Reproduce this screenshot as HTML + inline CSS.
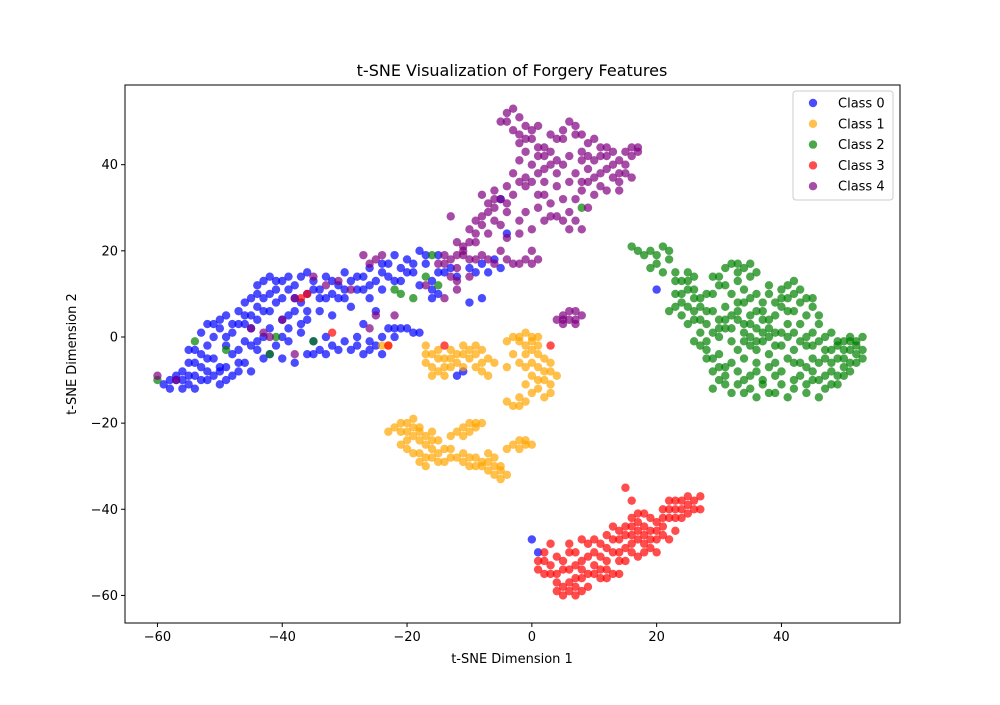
<!DOCTYPE html>
<html><head><meta charset="utf-8"><style>
body{margin:0;background:#fff;font-family:"Liberation Sans","DejaVu Sans",sans-serif;}
svg text{font-family:"DejaVu Sans","Liberation Sans",sans-serif;}
</style></head><body>
<svg id="chart" width="1000" height="700" xmlns="http://www.w3.org/2000/svg">
<rect width="1000" height="700" fill="#fff"/>
<text x="512" y="76" font-size="16" text-anchor="middle">t-SNE Visualization of Forgery Features</text>
<g id="points"></g>
<rect x="125" y="85" width="775" height="538" fill="none" stroke="#000" stroke-width="1"/>
<g id="axes"></g>
<text x="512" y="663" font-size="13" text-anchor="middle">t-SNE Dimension 1</text>
<text transform="translate(76,354) rotate(-90)" font-size="13" text-anchor="middle">t-SNE Dimension 2</text>
<g id="legend"></g>
</svg>
<script>
const classNames=["Class 0","Class 1","Class 2","Class 3","Class 4"];
const classColors=["#0000ff","#ffa500","#008000","#ff0000","#800080"];
const xTicks=[-60,-40,-20,0,20,40];
const yTicks=[-60,-40,-20,0,20,40];
const class0=[[-59,-11],[-58,-12],[-57,-10],[-56,-12],[-55,-11],[-56,-8],[-55,-6],[-54,-9],[-53,-7],[-52,-10],[-53,-4],[-52,-2],[-51,-5],[-50,-8],[-49,-10],[-48,-9],[-47,-6],[-51,0],[-50,2],[-49,-2],[-48,1],[-47,-3],[-46,-1],[-50,4],[-49,5],[-48,3],[-47,6],[-46,8],[-45,5],[-44,7],[-43,9],[-42,6],[-41,8],[-40,13],[-39,14],[-38,12],[-37,14],[-36,10],[-35,13],[-34,11],[-33,14],[-32,10],[-31,12],[-30,15],[-29,13],[-28,11],[-27,14],[-26,16],[-25,13],[-24,15],[-23,17],[-22,19],[-21,16],[-20,18],[-19,15],[-18,20],[-17,17],[-16,13],[-15,19],[-14,15],[-44,12],[-42,10],[-40,4],[-38,6],[-36,4],[-45,2],[-43,0],[-41,-2],[-40,-5],[-38,-6],[-36,-4],[-35,-1],[-34,-3],[-33,0],[-32,-2],[-30,-1],[-29,-3],[-28,-2],[-27,-4],[-26,-1],[-25,-2],[-24,0],[-23,2],[-22,2],[-21,2],[-37,1],[-39,2],[-42,-4],[-44,-3],[-46,-6],[-48,-4],[-52,-8],[-54,-3],[-53,1],[-52,3],[-44,4],[-42,14],[-38,9],[-34,9],[-30,9],[-26,9],[-24,11],[-20,15],[-18,12],[-16,9],[-10,16],[-8,17],[-6,18],[-12,-9],[-11,-8],[-10,8],[-8,9],[-5,16],[-4,24],[-5,32],[0,-47],[1,-50],[20,11],[-18,1],[-16,11],[-41,13],[-36,15],[-31,9],[-22,13],[-12,14],[-15,10],[-57,-9],[-55,-3],[-50,-7],[-46,3],[-45,-8],[-43,-5],[-39,-1],[-32,5],[-29,7],[-27,3],[-25,6]];
const class0b=[[-58,-10],[-56,-10],[-54,-12],[-54,-6],[-52,-5],[-51,-9],[-50,-11],[-49,-7],[-51,3],[-49,0],[-47,3],[-46,5],[-45,9],[-44,10],[-43,6],[-43,13],[-41,11],[-40,9],[-39,11],[-37,8],[-35,11],[-33,9],[-32,13],[-30,11],[-28,14],[-27,11],[-26,12],[-24,17],[-23,14],[-21,13],[-19,17],[-17,19],[-15,15],[-13,16],[-9,15],[-7,15],[-47,-8],[-44,-1],[-42,2],[-39,5],[-37,3],[-35,-4],[-33,-4],[-31,-3],[-28,0],[-26,-3],[-24,-4],[-22,0],[-20,2],[-19,1],[-36,6],[-34,6],[-40,0],[-45,-2],[-53,-10],[-55,-9]];
const class1=[[-17,-2],[-16,-4],[-15,-3],[-14,-5],[-13,-3],[-12,-4],[-11,-2],[-10,-5],[-9,-4],[-8,-3],[-7,-5],[-16,-7],[-15,-8],[-14,-9],[-13,-7],[-12,-6],[-9,-7],[-8,-8],[-7,-9],[-6,-6],[-17,-6],[-4,-1],[-3,0],[-2,-1],[-1,1],[0,0],[1,-2],[0,-3],[-1,-4],[-2,-6],[-1,-7],[1,-7],[0,-9],[2,-10],[3,-8],[1,-12],[0,-13],[-1,-15],[-3,-16],[-2,-14],[2,-14],[3,-11],[4,-9],[-3,-4],[-4,-7],[1,-4],[-4,-15],[-22,-21],[-21,-22],[-20,-24],[-19,-23],[-18,-22],[-17,-25],[-20,-20],[-19,-19],[-18,-21],[-21,-25],[-19,-27],[-18,-29],[-17,-30],[-16,-28],[-15,-27],[-14,-29],[-13,-26],[-12,-28],[-11,-29],[-10,-30],[-9,-28],[-8,-30],[-7,-31],[-6,-32],[-5,-30],[-6,-28],[-12,-22],[-11,-21],[-10,-22],[-9,-21],[-8,-20],[-13,-23],[-15,-24],[-16,-22],[-3,-25],[-2,-24],[-1,-25],[-4,-26],[0,-25],[-5,-33],[-7,-29],[-14,-26],[-16,-26],[-23,-22],[-23,-2],[-24,-2]];
const class1b=[[-17,-4],[-15,-5],[-13,-5],[-11,-4],[-10,-3],[-9,-2],[-14,-7],[-11,-7],[-16,-9],[-8,-6],[-2,0],[0,-1],[1,0],[-1,-2],[2,-5],[3,-6],[0,-6],[2,-8],[1,-10],[-1,-11],[3,-13],[-2,-16],[-21,-20],[-20,-22],[-19,-21],[-18,-24],[-17,-23],[-16,-24],[-18,-27],[-17,-28],[-15,-29],[-13,-28],[-11,-27],[-10,-28],[-9,-30],[-8,-29],[-7,-27],[-6,-30],[-5,-31],[-4,-32],[-11,-23],[-9,-20],[-10,-20],[-2,-26],[-1,-24],[-20,-26]];
const class2=[[-60,-10],[-54,-1],[-49,-3],[-42,-4],[-41,0],[-35,-1],[-22,11],[-21,10],[-15,12],[-16,19],[-19,9],[8,30],[-17,14],[16,21],[18,19],[19,20],[20,17],[21,21],[19,16],[22,18],[23,15],[24,13],[25,15],[26,14],[23,10],[24,8],[25,11],[26,9],[22,6],[24,5],[25,3],[26,4],[27,1],[28,3],[27,-2],[28,-5],[29,-8],[30,-10],[29,-12],[31,-11],[32,-13],[33,-8],[34,-10],[35,-12],[36,-14],[37,-11],[38,-13],[39,-9],[40,-11],[41,-14],[42,-12],[43,-9],[44,-11],[45,-10],[46,-14],[47,-12],[46,-6],[48,-8],[49,-5],[50,-7],[51,-3],[52,-1],[53,0],[52,-4],[50,-1],[49,-2],[48,1],[47,-3],[45,-5],[44,-2],[43,-6],[42,-3],[41,0],[40,-2],[39,1],[38,-4],[37,-1],[36,2],[35,-2],[34,-5],[33,-3],[32,-1],[31,2],[30,4],[29,6],[31,7],[32,5],[33,8],[34,11],[35,9],[36,6],[37,8],[38,10],[39,5],[40,7],[41,9],[42,6],[43,8],[44,5],[45,7],[46,3],[42,13],[41,12],[43,11],[40,11],[37,4],[35,5],[33,15],[32,17],[31,16],[34,16],[35,14],[33,13],[30,12],[29,14],[28,10],[27,7],[30,-4],[31,-7],[36,-8],[39,-6],[41,-5],[44,-7],[48,-11],[50,-9],[51,-6],[53,-3],[47,0],[45,1],[38,2],[36,-3],[34,1],[32,-6],[30,0],[28,-1],[26,-1],[51,0],[52,-6],[49,-9],[39,-13],[34,-13]];
const class2b=[[17,20],[20,19],[22,20],[21,15],[23,13],[25,13],[26,11],[24,10],[23,7],[25,7],[26,6],[27,4],[28,6],[29,1],[30,2],[31,4],[32,2],[33,4],[34,3],[35,0],[36,-1],[37,1],[38,0],[39,-2],[40,1],[41,3],[42,1],[43,-1],[44,0],[45,-2],[46,-1],[47,-5],[48,-3],[49,-1],[50,-3],[51,-1],[52,-2],[53,-5],[51,-8],[49,-11],[47,-9],[45,-8],[44,-13],[42,-10],[40,-8],[38,-7],[37,-10],[35,-9],[33,-11],[31,-9],[29,-5],[30,-7],[28,-3],[32,10],[34,8],[36,10],[38,12],[40,9],[42,10],[44,9],[39,8],[37,6],[35,3],[33,6],[31,12],[33,17],[36,15],[38,4],[41,6],[43,3],[46,5],[45,9],[34,-1],[36,-6],[42,-6],[46,-10],[48,-6],[50,-5],[27,9],[29,10],[35,17],[30,14]];
const class3=[[-37,9],[-36,10],[-32,1],[-23,-2],[-14,-2],[3,-2],[1,-52],[1,-54],[2,-50],[3,-53],[4,-55],[5,-52],[6,-54],[6,-48],[7,-50],[8,-47],[8,-52],[9,-55],[10,-50],[10,-53],[11,-48],[12,-52],[12,-46],[13,-50],[13,-55],[14,-47],[14,-52],[15,-44],[15,-49],[16,-42],[16,-46],[17,-43],[17,-47],[18,-44],[18,-41],[19,-45],[19,-49],[20,-43],[20,-47],[21,-40],[21,-44],[22,-38],[22,-42],[23,-40],[23,-45],[24,-38],[24,-42],[25,-39],[25,-41],[26,-38],[27,-37],[27,-40],[15,-35],[16,-38],[20,-50],[17,-51],[12,-56],[9,-51],[5,-58],[6,-59],[7,-60],[8,-59],[9,-58],[4,-59],[8,-56],[11,-54],[14,-55],[18,-50],[3,-48],[16,-48],[22,-47],[13,-44]];
const class3b=[[2,-52],[3,-55],[4,-51],[5,-54],[6,-50],[7,-53],[7,-56],[9,-48],[10,-47],[11,-51],[11,-56],[12,-49],[13,-47],[14,-50],[15,-46],[15,-52],[16,-44],[17,-45],[17,-41],[18,-46],[19,-42],[20,-45],[21,-42],[22,-40],[23,-42],[24,-40],[25,-37],[26,-40],[19,-47],[10,-55],[6,-57],[7,-58],[5,-60],[8,-54],[12,-54],[14,-45],[16,-50],[18,-48],[21,-46],[23,-38],[2,-55],[4,-57]];
const class4=[[-60,-9],[-57,-10],[-45,2],[-43,1],[-42,0],[-40,4],[-38,-4],[-38,9],[-35,14],[-33,12],[-31,13],[-29,11],[-27,19],[-26,17],[-25,18],[-24,19],[-25,5],[-26,2],[-22,5],[-17,12],[-14,9],[-12,11],[-12,13],[-11,19],[-5,50],[-4,52],[-3,53],[-2,51],[0,48],[1,49],[-1,46],[2,44],[4,46],[5,48],[6,50],[7,49],[8,47],[9,45],[10,46],[11,44],[12,42],[13,40],[14,41],[15,43],[16,44],[17,43],[15,38],[16,37],[14,36],[12,34],[10,33],[8,34],[6,36],[4,38],[2,39],[0,40],[-2,41],[-3,38],[-4,35],[-5,32],[-6,30],[-7,31],[-8,28],[-9,27],[-10,25],[-8,33],[-6,34],[-4,29],[-2,27],[0,25],[2,27],[4,28],[6,29],[7,27],[8,25],[5,32],[3,31],[1,33],[-1,35],[9,39],[10,41],[3,43],[1,42],[-2,45],[-7,24],[-9,22],[-11,20],[-12,22],[-13,18],[-14,17],[-12,16],[-10,18],[-8,19],[-6,17],[-4,18],[-2,17],[0,17],[1,18],[-10,14],[-13,28],[-5,26],[2,36],[11,38],[13,37],[5,5],[6,4],[7,6],[8,5],[5,3],[7,3],[4,4],[6,42],[8,41],[-3,48]];
const class4b=[[-4,50],[-1,49],[0,46],[1,44],[3,47],[5,46],[7,47],[8,43],[9,42],[11,42],[12,44],[13,43],[14,38],[15,40],[16,42],[17,44],[14,34],[11,35],[9,36],[7,38],[5,40],[3,40],[1,38],[-1,37],[-2,36],[-3,33],[-4,31],[-6,32],[-7,29],[-8,26],[-9,24],[-10,22],[-11,21],[-12,19],[-14,19],[-15,17],[-13,14],[-9,18],[-7,18],[-5,20],[-3,17],[-1,18],[0,20],[-1,29],[1,30],[3,28],[5,27],[6,25],[7,32],[9,30],[8,36],[4,35],[2,33],[0,36],[-6,27],[-4,23],[-2,24],[6,6],[7,4],[5,4],[4,41],[2,42],[-1,43],[10,37],[12,39],[-2,47]];
const classData=[class0.concat(class0b),class1.concat(class1b),class2.concat(class2b),class3.concat(class3b),class4.concat(class4b)];

const NS="http://www.w3.org/2000/svg";
const X0=125,X1=900,Y0=85,Y1=623,xMin=-65.2,xMax=59.0,yMin=-66.4,yMax=58.5;
function sx(v){return X0+(v-xMin)/(xMax-xMin)*(X1-X0);}
function sy(v){return Y1-(v-yMin)/(yMax-yMin)*(Y1-Y0);}
function mk(t,a){const e=document.createElementNS(NS,t);for(const k in a)e.setAttribute(k,a[k]);return e;}
const pg=document.getElementById('points');
classData.forEach((pts,ci)=>{
  pts.forEach(p=>{
    const c=mk('circle',{cx:sx(p[0]),cy:sy(p[1]),r:4.2,fill:classColors[ci],'fill-opacity':0.7});
    
    
    pg.appendChild(c);
  });
});
const ax=document.getElementById('axes');
xTicks.forEach(t=>{
  const x=sx(t);
  const l=mk('line',{x1:x,x2:x,y1:Y1,y2:Y1+4,stroke:'#000'});
  
  
  ax.appendChild(l);
  const tx=mk('text',{x:x,y:Y1+18,'font-size':13,'text-anchor':'middle'});
  
  
  tx.textContent=(t<0?'\u2212'+(-t):t);
  ax.appendChild(tx);
});
yTicks.forEach(t=>{
  const y=sy(t);
  const l=mk('line',{x1:X0-4,x2:X0,y1:y,y2:y,stroke:'#000'});
  
  
  ax.appendChild(l);
  const tx=mk('text',{x:X0-7,y:y+4.5,'font-size':13,'text-anchor':'end'});
  
  
  tx.textContent=(t<0?'\u2212'+(-t):t);
  ax.appendChild(tx);
});
const lg=document.getElementById('legend');
const box=mk('rect',{x:793,y:91,width:100,height:109,rx:3,fill:'#fff','fill-opacity':0.8,stroke:'#ccc'});


lg.appendChild(box);
classNames.forEach((n,i)=>{
  const y=103+i*20.8;
  const c=mk('circle',{cx:813,cy:y,r:4.2,fill:classColors[i],'fill-opacity':0.7});
  
  
  lg.appendChild(c);
  const t=mk('text',{x:838,y:y+4.5,'font-size':13});
  
  
  t.textContent=n;
  lg.appendChild(t);
});
</script>
</body></html>
